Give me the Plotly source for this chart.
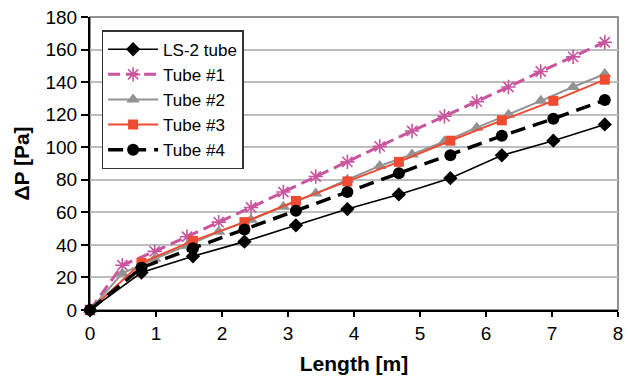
import plotly.graph_objects as go

# Pressure drop along the tube length for the reference tube and four test tubes
x_coarse = [0, 0.78, 1.56, 2.34, 3.12, 3.9, 4.68, 5.46, 6.24, 7.02, 7.8]
x_fine = [0, 0.49, 0.98, 1.47, 1.95, 2.44, 2.93, 3.42, 3.9, 4.39, 4.88,
          5.37, 5.86, 6.34, 6.83, 7.32, 7.8]

dp_ls2 = [0, 23, 33, 42, 52, 62, 71, 81, 95, 104, 114]
dp_tube1 = [0, 27.5, 36, 45, 54, 63, 72.5, 82, 91, 100.5, 110, 119, 128,
            137, 146.5, 155.5, 164.5]
dp_tube2 = [0, 22.5, 31.5, 39.5, 48, 55.5, 63.5, 71.5, 80, 88.5, 95.5,
            103.5, 112, 120, 128.5, 137, 145]
dp_tube3 = [0, 29, 42.5, 54, 67, 79, 91, 104, 116.5, 128.5, 141.5]
dp_tube4 = [0, 26, 38, 49.5, 61, 72.5, 84, 95, 107, 117.5, 129]

x_ticks = [0, 1, 2, 3, 4, 5, 6, 7, 8]
y_ticks = [0, 20, 40, 60, 80, 100, 120, 140, 160, 180]

FONT = "Liberation Sans, Arial, sans-serif"

fig = go.Figure()

fig.add_trace(go.Scatter(
    x=x_coarse, y=dp_ls2, name="LS-2 tube", mode="lines+markers",
    line=dict(color="black", width=1.6),
    marker=dict(symbol="diamond", size=11, color="black"),
    cliponaxis=False))

fig.add_trace(go.Scatter(
    x=x_fine, y=dp_tube1, name="Tube #1", mode="lines+markers",
    line=dict(color="#C8559E", width=3, dash="12px,6px"),
    marker=dict(symbol="asterisk-open", size=12,
                line=dict(color="#C8559E", width=1.6)),
    cliponaxis=False))

fig.add_trace(go.Scatter(
    x=x_fine, y=dp_tube2, name="Tube #2", mode="lines+markers",
    line=dict(color="#939393", width=2),
    marker=dict(symbol="triangle-up", size=12, color="#939393"),
    cliponaxis=False))

fig.add_trace(go.Scatter(
    x=x_coarse, y=dp_tube3, name="Tube #3", mode="lines+markers",
    line=dict(color="#EE4B32", width=2),
    marker=dict(symbol="square", size=10, color="#EE4B32"),
    cliponaxis=False))

fig.add_trace(go.Scatter(
    x=x_coarse, y=dp_tube4, name="Tube #4", mode="lines+markers",
    line=dict(color="black", width=3.5, dash="15px,8px"),
    marker=dict(symbol="circle", size=12, color="black"),
    cliponaxis=False))

# plot frame: grey top/right edges, black axes on left/bottom
fig.add_shape(type="rect", xref="paper", yref="paper", x0=0, y0=0, x1=1, y1=1,
              line=dict(color="#6E6E6E", width=1.5), layer="below")

fig.update_layout(
    width=631, height=378,
    margin=dict(l=90, r=13, t=17, b=68),
    paper_bgcolor="white", plot_bgcolor="white",
    font=dict(family=FONT, color="black", size=19),
    showlegend=True,
    legend=dict(
        x=0.022, y=0.955, xanchor="left", yanchor="top",
        bgcolor="white", bordercolor="#333333", borderwidth=1.5,
        font=dict(family=FONT, size=17, color="black"),
        itemwidth=50, tracegroupgap=0,
    ),
    xaxis=dict(
        range=[0, 8], tickvals=x_ticks, ticktext=[str(v) for v in x_ticks],
        showgrid=False, zeroline=False, automargin=False,
        showline=True, linecolor="black", linewidth=2,
        ticks="outside", ticklen=5, tickwidth=1.5, tickcolor="black",
        tickfont=dict(size=19),
        title=dict(text="<b>Length [m]</b>", font=dict(size=21), standoff=14),
    ),
    yaxis=dict(
        range=[0, 180], tickvals=y_ticks, ticktext=[str(v) for v in y_ticks],
        showgrid=True, gridcolor="#BDBDBD", gridwidth=1.5, zeroline=False,
        automargin=False,
        showline=True, linecolor="black", linewidth=2,
        ticks="outside", ticklen=7, tickwidth=1.5, tickcolor="black",
        tickfont=dict(size=19),
        title=dict(text="<b>\u0394P [Pa]</b>", font=dict(size=21), standoff=10),
    ),
)

fig.write_html("out.html")
